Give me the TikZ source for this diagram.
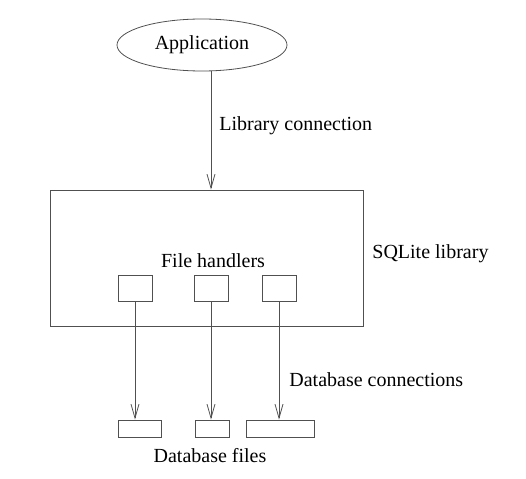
\documentclass[tikz,border=0pt]{standalone}
\usepackage{fontspec}
\setmainfont{Liberation Serif}
\usetikzlibrary{shapes.geometric,arrows.meta}
\definecolor{linegray}{HTML}{505050}
\begin{document}
\begin{tikzpicture}[x=1pt,y=-1pt,font=\fontsize{20}{24}\selectfont,
  line width=0.8pt,
  >={Straight Barb[length=14pt,width=8pt,line width=0.8pt]},
  box/.style={draw=linegray, inner sep=0pt},
  lbl/.style={anchor=base west, inner sep=0pt}]
\useasboundingbox (0,0) rectangle (526,478);
\node[draw=linegray, ellipse, minimum width=170pt, minimum height=52pt, inner sep=0pt] (app) at (202,45) {Application};
\node[box, minimum width=313pt, minimum height=136pt] (lib) at (206.5,258) {};
\node[box, minimum width=34pt, minimum height=26pt] (fh1) at (135,288) {};
\node[box, minimum width=34pt, minimum height=26pt] (fh2) at (211,288) {};
\node[box, minimum width=34pt, minimum height=26pt] (fh3) at (279,288) {};
\node[box, minimum width=43pt, minimum height=17pt] (db1) at (139.5,428.5) {};
\node[box, minimum width=34pt, minimum height=17pt] (db2) at (212,428.5) {};
\node[box, minimum width=68pt, minimum height=17pt] (db3) at (280,428.5) {};
\node[lbl] (libconn) at (219,131) {Library connection};
\node[lbl] (sqlite) at (372,258) {SQLite library};
\node[anchor=base, inner sep=0pt] (handlers) at (213,267) {File handlers};
\node[lbl] (dbconn) at (289,386) {Database connections};
\node[anchor=base, inner sep=0pt] (dbfiles) at (210,462) {Database files};
\path[draw=linegray,->] (app.south -| fh2) -- (lib.north -| fh2);
\path[draw=linegray,->] (fh1.south) -- (fh1.south |- db1.north);
\path[draw=linegray,->] (fh2.south) -- (fh2.south |- db2.north);
\path[draw=linegray,->] (fh3.south) -- (fh3.south |- db3.north);
\end{tikzpicture}
\end{document}
